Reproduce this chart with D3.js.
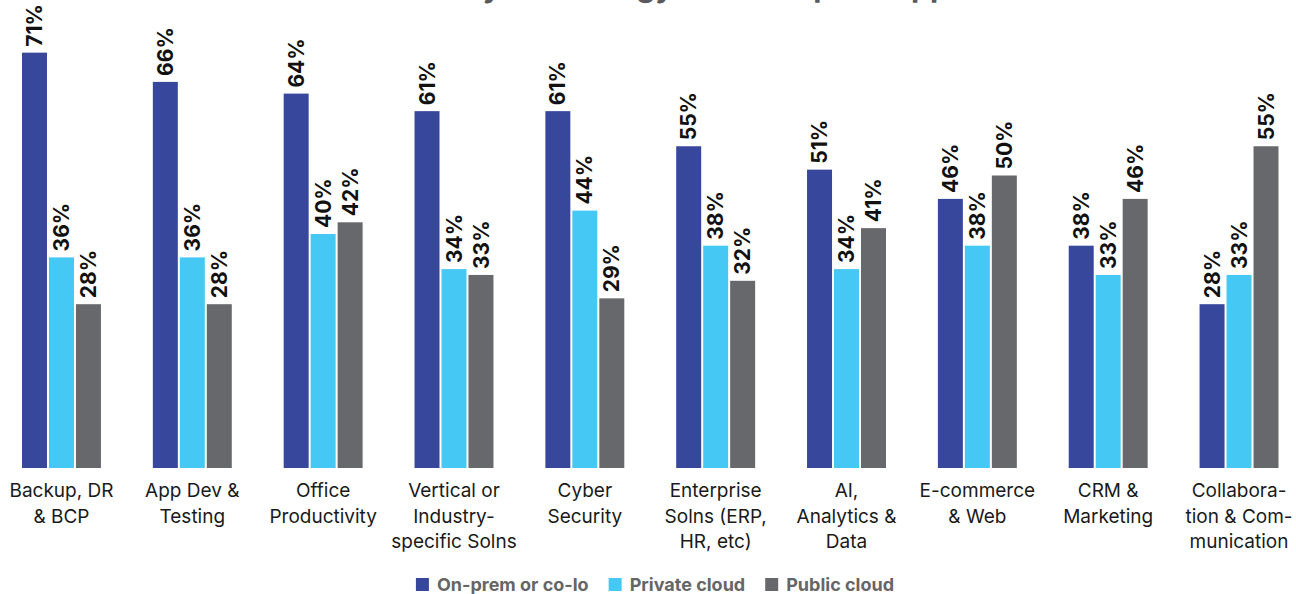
<!DOCTYPE html>
<html>
<head>
<meta charset="utf-8">
<script src="https://cdn.jsdelivr.net/npm/d3@7"></script>
<style>
  body { margin: 0; background: #fff; }
  svg { display: block; font-family: Inter, "Noto Sans", sans-serif; }
</style>
</head>
<body>
<svg id="chart"></svg>
<script>
var width = 1296;
var height = 594;

// data
var categories = ["Backup", "AppDev", "Office", "Vertical", "Cyber", "Enterprise", "AI", "Ecommerce", "CRM", "Collab"];
var categoryLabels = [
  ["Backup, DR", "& BCP"],
  ["App Dev &", "Testing"],
  ["Office", "Productivity"],
  ["Vertical or", "Industry-", "specific Solns"],
  ["Cyber", "Security"],
  ["Enterprise", "Solns (ERP,", "HR, etc)"],
  ["AI,", "Analytics &", "Data"],
  ["E-commerce", "& Web"],
  ["CRM &", "Marketing"],
  ["Collabora-", "tion & Com-", "munication"]
];
var seriesNames = ["On-prem or co-lo", "Private cloud", "Public cloud"];
var onPrem  = [71, 66, 64, 61, 61, 55, 51, 46, 38, 28];
var privateCloud = [36, 36, 40, 34, 44, 38, 34, 38, 33, 33];
var publicCloud  = [28, 28, 42, 33, 29, 32, 41, 50, 46, 55];
var colors = ["#37479c", "#45c8f3", "#67686c"];
var title = "Location by technology for the top ten apps";

var rows = categories.map(function(c, i){
  return {cat: c, label: categoryLabels[i], values: [onPrem[i], privateCloud[i], publicCloud[i]]};
});

var svg = d3.select('#chart')
    .attr('width', width)
    .attr('height', height);

var baseline = 468;

var x0 = d3.scaleBand()
    .domain(categories)
    .range([22, 1278.5])
    .paddingInner(0.3967)
    .paddingOuter(0);

var x1 = d3.scaleBand()
    .domain(seriesNames)
    .range([0, x0.bandwidth()])
    .paddingInner(2 / 27);

var y = d3.scaleLinear()
    .domain([0, 80])
    .range([baseline, 0]);

// title (cut off at the top of the picture, only its descenders show)
svg.append('text')
    .attr('x', 648)
    .attr('y', -3)
    .attr('text-anchor', 'middle')
    .style('font-size', '30px')
    .style('font-weight', 700)
    .style('fill', '#5a5a5e')
    .text(title);

var groups = svg.selectAll('g.group')
    .data(rows)
    .enter()
    .append('g')
    .attr('class', 'group')
    .attr('transform', function(d){ return 'translate(' + x0(d.cat) + ',0)'; });

groups.selectAll('rect')
    .data(function(d){ return d.values.map(function(v, k){ return {s: seriesNames[k], v: v, k: k}; }); })
    .enter()
    .append('rect')
    .attr('x', function(d){ return x1(d.s); })
    .attr('y', function(d){ return y(d.v); })
    .attr('width', x1.bandwidth())
    .attr('height', function(d){ return baseline - y(d.v); })
    .style('fill', function(d){ return colors[d.k]; });

groups.selectAll('text.val')
    .data(function(d){ return d.values.map(function(v, k){ return {s: seriesNames[k], v: v, k: k}; }); })
    .enter()
    .append('text')
    .attr('class', 'val')
    .attr('transform', function(d){
      return 'translate(' + (x1(d.s) + x1.bandwidth() / 2) + ',' + (y(d.v) - 6) + ') rotate(-90)';
    })
    .attr('dy', '0.36em')
    .style('font-size', '21px')
    .style('font-weight', 700)
    .style('fill', '#111')
    .text(function(d){ return d.v + '%'; });

// category labels
groups.append('text')
    .attr('class', 'cat')
    .attr('text-anchor', 'middle')
    .style('font-size', '19px')
    .style('fill', '#1a1a1a')
    .selectAll('tspan')
    .data(function(d){ return d.label; })
    .enter()
    .append('tspan')
    .attr('x', x0.bandwidth() / 2)
    .attr('y', function(d, i){ return 497 + i * 25.7; })
    .text(function(d){ return d; });

// legend
var legend = svg.append('g').attr('class', 'legend');
var lx = 0;
seriesNames.forEach(function(name, k){
  var item = legend.append('g').attr('transform', 'translate(' + lx + ',0)');
  item.append('rect')
      .attr('x', 0).attr('y', 578)
      .attr('width', 13).attr('height', 13)
      .style('fill', colors[k]);
  var t = item.append('text')
      .attr('x', 21).attr('y', 591)
      .style('font-size', '18px')
      .style('font-weight', 700)
      .style('fill', '#666')
      .text(name);
  lx += 21 + t.node().getComputedTextLength() + 20;
});
var lw = lx - 20;
legend.attr('transform', 'translate(' + (655 - lw / 2) + ',0)');
</script>
</body>
</html>
